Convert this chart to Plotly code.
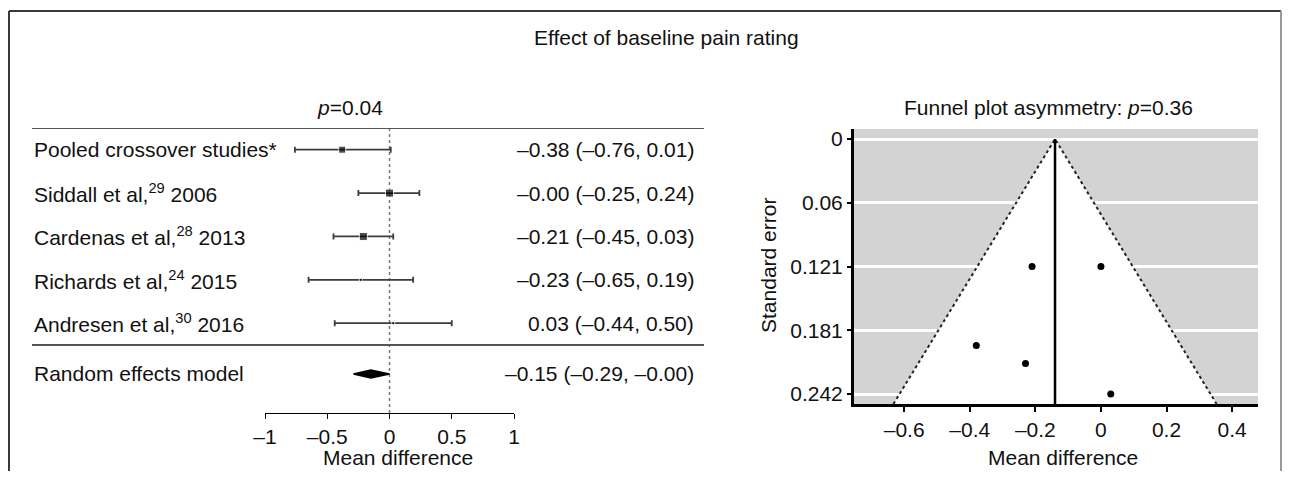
import plotly.graph_objects as go

# ---------------- data ----------------
studies = ["Pooled crossover studies*",
           "Siddall et al,<sup>29</sup> 2006",
           "Cardenas et al,<sup>28</sup> 2013",
           "Richards et al,<sup>24</sup> 2015",
           "Andresen et al,<sup>30</sup> 2016"]
est = [-0.38, -0.00, -0.21, -0.23, 0.03]
lo = [-0.76, -0.25, -0.45, -0.65, -0.44]
hi = [0.01, 0.24, 0.03, 0.19, 0.50]
est_text = ["\u20130.38 (\u20130.76, 0.01)",
            "\u20130.00 (\u20130.25, 0.24)",
            "\u20130.21 (\u20130.45, 0.03)",
            "\u20130.23 (\u20130.65, 0.19)",
            "0.03 (\u20130.44, 0.50)"]
box_size = [7, 8, 8, 3, 3]

re_label = "Random effects model"
re_est, re_lo, re_hi = -0.15, -0.29, -0.00
re_text = "\u20130.15 (\u20130.29, \u20130.00)"

forest_ticks = [-1, -0.5, 0, 0.5, 1]
forest_ticktext = ["\u20131", "\u20130.5", "0", "0.5", "1"]

# funnel plot
se = [0.196, 0.121, 0.121, 0.213, 0.242]
funnel_center = -0.14
funnel_yticks = [0, 0.0605, 0.121, 0.1815, 0.242]
funnel_yticktext = ["0", "0.06", "0.121", "0.181", "0.242"]
funnel_xticks = [-0.6, -0.4, -0.2, 0, 0.2, 0.4]
funnel_xticktext = ["\u20130.6", "\u20130.4", "\u20130.2", "0", "0.2", "0.4"]

# ---------------- layout helpers ----------------
# the page body has an 8px margin; the figure is sized/positioned to fit inside the window
OFF = 8
W, H = 1290 - 2 * OFF, 479 - 2 * OFF
def X(px): return (px - OFF) / W
def Y(py): return 1 - (py - OFF) / H

FONT = "Liberation Sans, Arial, Helvetica, sans-serif"
TXT = "#111111"
FS = 21

rows = list(range(len(studies)))
re_row = 5.17

fig = go.Figure()

# forest: CI + boxes
fig.add_trace(go.Scatter(
    x=est, y=rows, mode="markers",
    marker=dict(symbol="square", size=box_size, color="black"),
    error_x=dict(type="data", symmetric=False,
                 array=[h - e for h, e in zip(hi, est)],
                 arrayminus=[e - l for e, l in zip(est, lo)],
                 color="#3c3c3c", thickness=1.8, width=3),
    xaxis="x", yaxis="y", showlegend=False, hoverinfo="skip"))

# random effects diamond
dh = 0.09
fig.add_trace(go.Scatter(
    x=[re_lo, re_est, re_hi, re_est, re_lo],
    y=[re_row, re_row - dh, re_row, re_row + dh, re_row],
    mode="lines", fill="toself", fillcolor="black",
    line=dict(color="black", width=1.5),
    xaxis="x", yaxis="y", showlegend=False, hoverinfo="skip"))

# funnel: white triangle
ybot = 0.2514
fig.add_trace(go.Scatter(
    x=[funnel_center - 1.96 * ybot, funnel_center, funnel_center + 1.96 * ybot],
    y=[ybot, 0, ybot], mode="lines", fill="toself", fillcolor="white",
    line=dict(width=0, color="white"),
    xaxis="x2", yaxis="y2", showlegend=False, hoverinfo="skip"))
fig.add_trace(go.Scatter(
    x=[funnel_center - 1.96 * ybot, funnel_center, funnel_center + 1.96 * ybot],
    y=[ybot, 0, ybot], mode="lines",
    line=dict(width=2, color="#222222", dash="dot"),
    xaxis="x2", yaxis="y2", showlegend=False, hoverinfo="skip"))
fig.add_trace(go.Scatter(
    x=[funnel_center, funnel_center], y=[0, ybot], mode="lines",
    line=dict(width=2.5, color="black"),
    xaxis="x2", yaxis="y2", showlegend=False, hoverinfo="skip"))
fig.add_trace(go.Scatter(
    x=est, y=se, mode="markers",
    marker=dict(size=7, color="black"),
    xaxis="x2", yaxis="y2", showlegend=False, hoverinfo="skip"))

shapes = []
# outer border
shapes.append(dict(type="line", xref="paper", yref="paper", x0=X(9), x1=X(1281), y0=Y(11), y1=Y(11),
                   line=dict(color="#3a3a3a", width=2)))
shapes.append(dict(type="line", xref="paper", yref="paper", x0=X(9), x1=X(9), y0=Y(11), y1=Y(480),
                   line=dict(color="#3a3a3a", width=2)))
shapes.append(dict(type="line", xref="paper", yref="paper", x0=X(1281), x1=X(1281), y0=Y(11), y1=Y(480),
                   line=dict(color="#9a9a9a", width=2)))
# forest separators
shapes.append(dict(type="line", xref="paper", yref="y", x0=X(32), x1=X(704), y0=-0.5, y1=-0.5,
                   line=dict(color="#555555", width=2)))
shapes.append(dict(type="line", xref="paper", yref="y", x0=X(32), x1=X(704), y0=4.5, y1=4.5,
                   line=dict(color="#555555", width=2)))
# zero line
shapes.append(dict(type="line", xref="x", yref="y domain", x0=0, x1=0, y0=0, y1=1,
                   line=dict(color="#777777", width=1.5, dash="dot"), layer="below"))
# funnel gray background
shapes.append(dict(type="rect", xref="x2 domain", yref="y2 domain", x0=0, x1=1, y0=0, y1=1,
                   fillcolor="#d3d3d3", line=dict(width=0), layer="below"))

def txt(x, y, s, xanchor="center", xref="paper", yref="paper", **kw):
    return dict(x=x, y=y, xref=xref, yref=yref, text=s, showarrow=False,
                xanchor=xanchor, yanchor="middle",
                font=dict(size=FS, color=TXT, family=FONT), **kw)

annotations = []
for r, lab, t in zip(rows, studies, est_text):
    annotations.append(txt(X(32), r, lab, "left", yref="y"))
    annotations.append(txt(X(696), r, t, "right", yref="y"))
annotations.append(txt(X(32), re_row, re_label, "left", yref="y"))
annotations.append(txt(X(696), re_row, re_text, "right", yref="y"))
annotations += [
    txt(X(666), Y(37), "Effect of baseline pain rating"),
    txt(X(350), Y(107), "<i>p</i>=0.04"),
    txt(X(1048), Y(107), "Funnel plot asymmetry: <i>p</i>=0.36"),
    txt(X(398), Y(457), "Mean difference"),
    txt(X(1063), Y(457), "Mean difference"),
    txt(X(768), Y(266), "Standard error", textangle=-90),
]

fig.update_layout(
    template="none",
    width=W, height=H, autosize=False, margin=dict(l=0, r=0, t=0, b=0, pad=0, autoexpand=False),
    paper_bgcolor="white", plot_bgcolor="white",
    font=dict(family=FONT, color=TXT, size=FS),
    shapes=shapes, annotations=annotations, showlegend=False,
    xaxis=dict(domain=[X(265), X(514)], range=[-1, 1], anchor="y", automargin=False,
               showline=True, linecolor="black", linewidth=1.2, mirror=False,
               ticks="outside", ticklen=5, tickwidth=1.2, tickcolor="black",
               tickvals=forest_ticks, ticktext=forest_ticktext,
               tickfont=dict(size=FS, color=TXT, family=FONT),
               showgrid=False, zeroline=False, fixedrange=True),
    yaxis=dict(domain=[Y(413), Y(128)], range=[6.07, -0.5], anchor="x", automargin=False,
               visible=False, showgrid=False, zeroline=False, fixedrange=True),
    xaxis2=dict(domain=[X(854), X(1258)], range=[-0.753, 0.479], anchor="y2", automargin=False,
                showline=True, linecolor="black", linewidth=3,
                ticks="outside", ticklen=5, tickwidth=1.5, tickcolor="black",
                tickvals=funnel_xticks, ticktext=funnel_xticktext,
                tickfont=dict(size=FS, color=TXT, family=FONT),
                showgrid=False, zeroline=False, fixedrange=True),
    yaxis2=dict(domain=[Y(404), Y(129)], range=[0.2514, -0.0095], anchor="x2", automargin=False,
                showline=True, linecolor="black", linewidth=3,
                ticks="outside", ticklen=4, tickwidth=1.5, tickcolor="black",
                tickvals=funnel_yticks, ticktext=funnel_yticktext,
                tickfont=dict(size=FS, color=TXT, family=FONT),
                showgrid=True, gridcolor="white", gridwidth=2.5, zeroline=False, fixedrange=True),
)

fig.write_html("out.html")
